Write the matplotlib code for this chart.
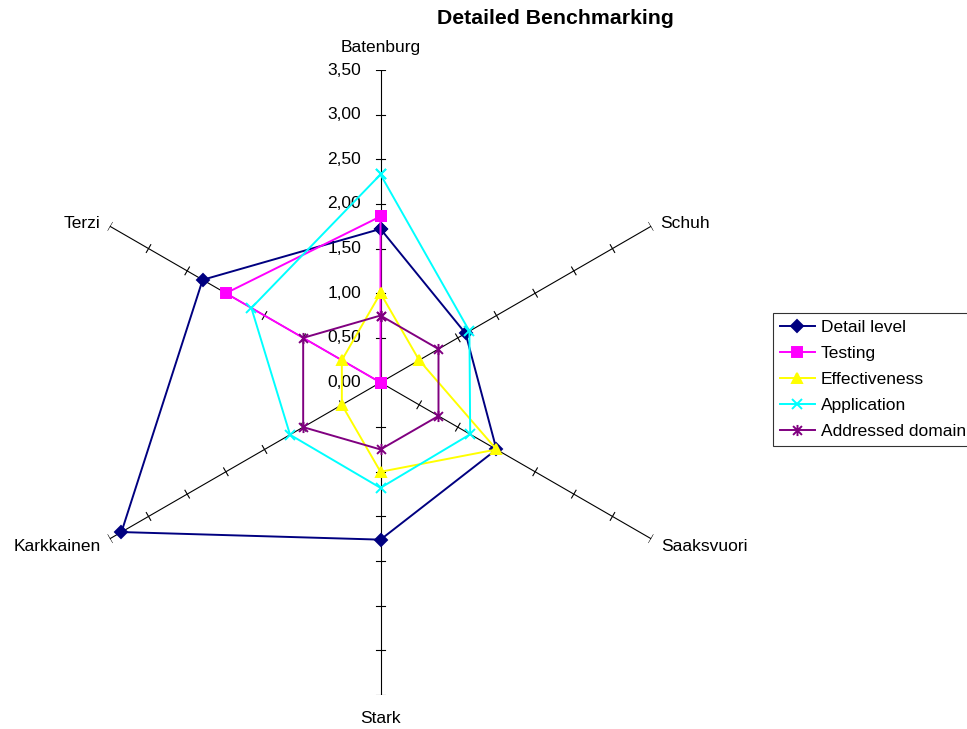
import numpy as np
import matplotlib
matplotlib.use('Agg')
import matplotlib.pyplot as plt
from matplotlib.path import Path

plt.rcParams['font.family'] = ['Liberation Sans', 'DejaVu Sans']

# benchmark scores per source, clockwise from the top spoke
sources = ['Batenburg', 'Schuh', 'Saaksvuori', 'Stark', 'Karkkainen', 'Terzi']
detail_level = [1.72, 1.10, 1.50, 1.76, 3.35, 2.30]
testing = [1.86, 0.0, 0.0, 0.0, 0.0, 2.00]
effectiveness = [1.00, 0.50, 1.50, 1.00, 0.50, 0.50]
application = [2.33, 1.15, 1.16, 1.18, 1.17, 1.67]
addressed_domain = [0.75, 0.75, 0.75, 0.75, 1.00, 1.00]
scale_ticks = [0.0, 0.5, 1.0, 1.5, 2.0, 2.5, 3.0, 3.5]

# asterisk marker like the spreadsheet one
star = Path([(-1, -1), (1, 1), (-1, 1), (1, -1), (0, -1.25), (0, 1.25)],
            [Path.MOVETO, Path.LINETO, Path.MOVETO, Path.LINETO, Path.MOVETO, Path.LINETO])

series = [
    ('Detail level', detail_level, '#000080', 'D', 6),
    ('Testing', testing, '#FF00FF', 's', 7),
    ('Effectiveness', effectiveness, '#FFFF00', '^', 7.5),
    ('Application', application, '#00FFFF', 'x', 7.5),
    ('Addressed domain', addressed_domain, '#800080', star, 8),
]

fig = plt.figure(figsize=(9.67, 7.29), dpi=100)
ax = fig.add_axes([68 / 967, 34 / 729, 625 / 967, 625 / 729], projection='polar')
ax.set_theta_zero_location('N')
ax.set_theta_direction(-1)
ax.set_ylim(0, 3.5)
ax.grid(False)
ax.set_xticks([])
ax.set_yticks([])
ax.spines['polar'].set_visible(False)
ax.patch.set_visible(False)

angles = np.arange(len(sources)) * 2 * np.pi / len(sources)

# spokes with short crossing tick marks (half length in radius units)
half = 0.05
for a in angles:
    ax.plot([a, a], [0, 3.5], color='black', lw=0.8, zorder=1)
    for r in scale_ticks[1:]:
        dth = np.arctan2(half, r)
        rr = np.hypot(r, half)
        ax.plot([a - dth, a + dth], [rr, rr], color='black', lw=0.8, zorder=1)

# value labels along the top spoke
for v in scale_ticks:
    ax.annotate(f'{v:.2f}'.replace('.', ','), (0, v), xytext=(-14, 0),
                textcoords='offset points', ha='right', va='center', fontsize=12.5)

label_pos = [((0, 16), 'center'), ((6.5, 2), 'left'), ((7, -5.5), 'left'),
             ((0, -17), 'center'), ((-6.5, -5.5), 'right'), ((-6.5, 2), 'right')]
for a, name, (off, ha) in zip(angles, sources, label_pos):
    ax.annotate(name, (a, 3.5), xytext=off, textcoords='offset points',
                ha=ha, va='center', fontsize=12.5)

for name, vals, col, mk, ms in series:
    th = np.append(angles, angles[0])
    rr = np.append(vals, vals[0])
    ax.plot(th, rr, color=col, lw=1.4, marker=mk, ms=ms, mfc=col, mec=col,
            mew=1.4, label=name, zorder=3, clip_on=False)

fig.text(555 / 967, 1 - 19 / 729, 'Detailed Benchmarking', ha='center', va='center',
         fontsize=15.3, fontweight='bold')

leg = fig.legend(loc='upper left', bbox_to_anchor=(773 / 967, 1 - 313 / 729),
                 fontsize=12.5, frameon=True, fancybox=False, edgecolor='black',
                 handlelength=2.0, handletextpad=0.35, labelspacing=0.62,
                 borderpad=0.4, borderaxespad=0, numpoints=1)
leg.get_frame().set_linewidth(0.8)

fig.savefig('out.png', dpi=100)
